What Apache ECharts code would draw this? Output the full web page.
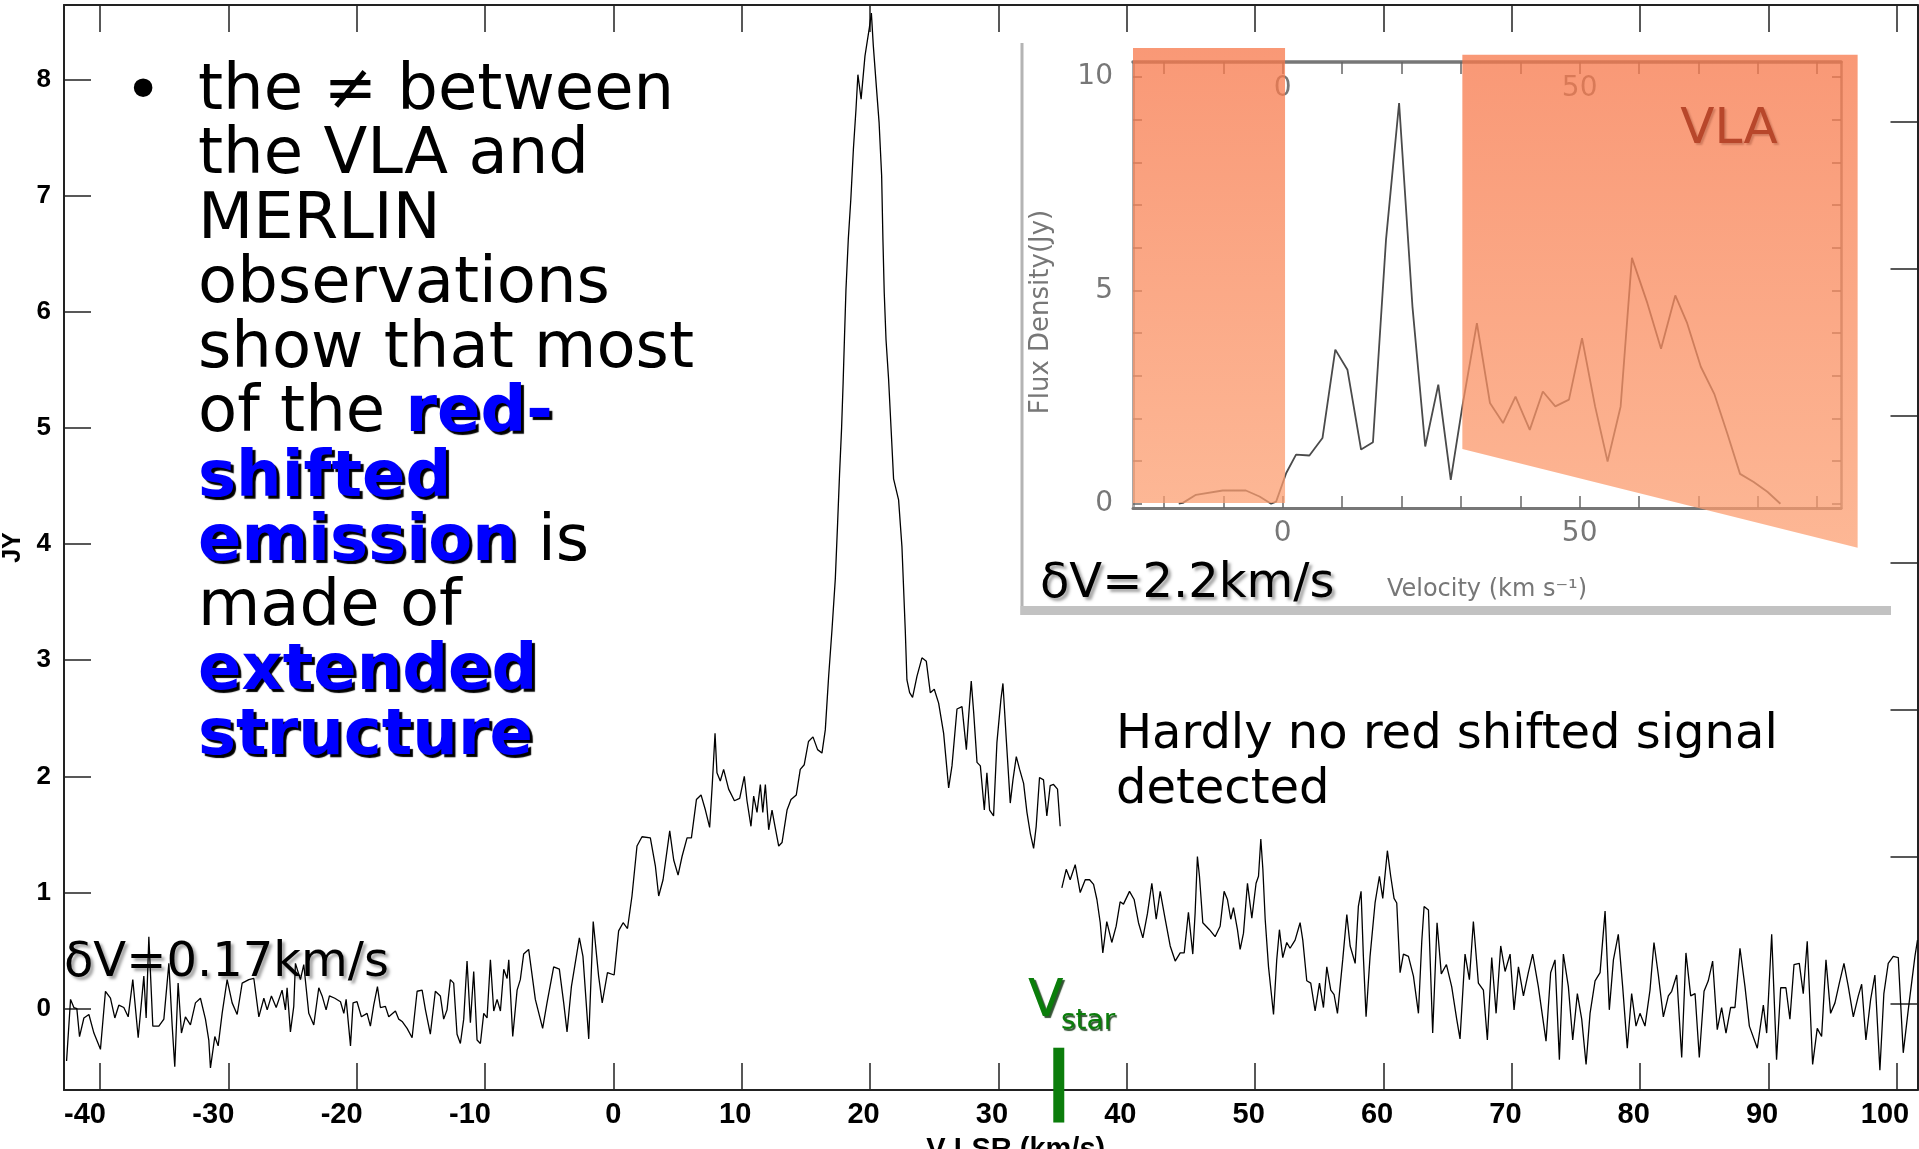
<!DOCTYPE html>
<html>
<head>
<meta charset="utf-8">
<title>MERLIN vs VLA spectrum</title>
<script src="https://cdn.jsdelivr.net/npm/echarts@6.0.0/dist/echarts.min.js"></script>
<style>
  html, body { margin: 0; padding: 0; background: #fff; }
  #chart { width: 1919px; height: 1149px; }
</style>
</head>
<body>
<div id="chart"></div>
<script>
// MERLIN spectrum, [velocity km/s, flux Jy], blue wing up to about -3 km/s
const blueWing = [
  [-42.6,-0.45],[-42.29,0.08],[-42.03,0.01],[-41.8,0.0],[-41.59,-0.24],[-41.25,-0.08],[-40.86,-0.05],[-40.47,-0.21],
  [-39.96,-0.35],[-39.57,0.15],[-39.18,0.09],[-38.84,-0.08],[-38.53,0.03],[-38.14,0.01],[-37.8,-0.07],[-37.44,0.25],
  [-37.02,-0.25],[-36.58,0.28],[-36.4,-0.08],[-36.19,0.62],[-35.88,-0.15],[-35.41,-0.15],[-35.02,-0.09],[-34.63,0.39],
  [-34.37,-0.15],[-34.17,-0.5],[-33.91,0.22],[-33.65,-0.21],[-33.34,-0.07],[-32.95,-0.14],[-32.56,0.05],[-32.17,0.09],
  [-31.78,-0.09],[-31.52,-0.27],[-31.39,-0.51],[-31.05,-0.24],[-30.79,-0.32],[-30.48,-0.04],[-30.09,0.25],[-29.7,0.05],
  [-29.31,-0.05],[-28.92,0.22],[-28.4,0.25],[-28.01,0.26],[-27.62,-0.07],[-27.23,0.09],[-26.97,-0.01],[-26.64,0.11],
  [-26.27,0.01],[-25.81,0.16],[-25.55,-0.01],[-25.42,0.18],[-25.16,-0.2],[-24.9,0.02],[-24.77,0.39],[-24.38,0.25],
  [-24.12,0.38],[-23.73,-0.04],[-23.34,-0.14],[-22.95,0.18],[-22.69,0.11],[-22.38,-0.01],[-22.12,0.11],[-21.7,0.09],
  [-21.26,0.06],[-21.0,-0.04],[-20.82,0.08],[-20.48,-0.32],[-20.28,0.05],[-19.97,0.06],[-19.63,-0.07],[-19.19,-0.04],
  [-18.93,-0.15],[-18.67,0.03],[-18.38,0.19],[-18.15,0.01],[-17.76,0.02],[-17.5,-0.07],[-16.98,-0.02],[-16.72,-0.09],
  [-16.46,-0.11],[-16.07,-0.17],[-15.68,-0.25],[-15.29,0.15],[-14.9,0.16],[-14.64,-0.01],[-14.26,-0.22],[-13.87,0.15],
  [-13.48,0.11],[-13.22,-0.09],[-12.96,-0.01],[-12.7,0.25],[-12.44,0.22],[-12.18,-0.22],[-11.92,-0.3],[-11.66,-0.09],
  [-11.4,0.41],[-11.14,-0.12],[-10.88,0.32],[-10.62,-0.27],[-10.36,-0.3],[-10.1,-0.04],[-9.84,-0.08],[-9.58,0.42],
  [-9.32,-0.02],[-9.06,0.08],[-8.8,-0.02],[-8.54,0.34],[-8.28,0.26],[-8.15,0.42],[-7.84,-0.24],[-7.5,0.16],
  [-7.25,0.25],[-6.99,0.47],[-6.6,0.51],[-6.08,0.08],[-5.51,-0.17],[-5.17,0.05],[-4.65,0.36],[-4.21,0.34],
  [-3.87,0.05],[-3.61,-0.2],[-3.27,0.19]
];

// MERLIN spectrum, main emission up to the band edge near 35 km/s
const mainPeak = [
  [-2.65,0.61],[-2.37,0.45],[-1.92,-0.26],[-1.57,0.75],[-1.15,0.28],[-0.87,0.05],[-0.46,0.31],[0.06,0.29],
  [0.41,0.67],[0.76,0.74],[1.1,0.69],[1.45,0.97],[1.84,1.4],[2.23,1.48],[2.88,1.47],[3.27,1.23],[3.53,0.97],
  [3.87,1.11],[4.39,1.53],[4.7,1.28],[5.04,1.15],[5.35,1.31],[5.74,1.47],[6.08,1.47],[6.47,1.8],[6.83,1.84],
  [7.17,1.71],[7.5,1.56],[7.71,1.94],[7.92,2.37],[8.07,2.03],[8.33,1.96],[8.59,2.06],[8.98,1.89],[9.43,1.79],
  [9.84,1.81],[10.2,2.0],[10.41,1.79],[10.72,1.57],[10.93,1.83],[11.19,1.69],[11.45,1.93],[11.64,1.69],[11.84,1.93],
  [12.1,1.54],[12.36,1.71],[12.54,1.6],[12.88,1.4],[13.14,1.43],[13.53,1.71],[13.84,1.8],[14.25,1.84],[14.56,2.06],
  [14.87,2.1],[15.2,2.3],[15.55,2.34],[15.91,2.23],[16.25,2.2],[16.51,2.4],[16.77,2.86],[17.03,3.26],[17.29,3.7],
  [17.47,4.18],[17.62,4.6],[17.78,5.0],[17.9,5.39],[18.0,5.76],[18.12,6.19],[18.3,6.62],[18.5,6.97],[18.7,7.4],
  [18.9,7.74],[19.05,8.04],[19.3,7.83],[19.6,8.2],[19.95,8.45],[20.1,8.57],[20.25,8.29],[20.5,7.92],[20.7,7.63],
  [20.9,7.17],[21.0,6.62],[21.1,6.17],[21.24,5.76],[21.44,5.42],[21.65,4.96],[21.83,4.56],[22.22,4.38],[22.48,3.98],
  [22.74,3.26],[22.87,2.83],[23.08,2.72],[23.31,2.68],[23.65,2.86],[24.04,3.02],[24.38,2.99],[24.69,2.72],[25.0,2.75],
  [25.34,2.63],[25.73,2.37],[26.12,1.9],[26.38,2.09],[26.77,2.58],[27.16,2.6],[27.5,2.23],[27.68,2.52],[27.88,2.82],
  [28.07,2.55],[28.33,2.12],[28.59,2.09],[28.9,1.71],[29.1,2.03],[29.31,1.71],[29.62,1.66],[29.88,2.29],[30.19,2.66],
  [30.35,2.8],[30.61,2.32],[30.92,1.77],[31.13,1.97],[31.39,2.17],[31.65,2.06],[31.96,1.94],[32.22,1.69],[32.48,1.51],
  [32.74,1.38],[32.94,1.57],[33.2,1.99],[33.51,1.97],[33.77,1.66],[34.03,1.92],[34.29,1.93],[34.6,1.89],[34.81,1.57]
];

// MERLIN spectrum, second band (red side)
const redBand = [
  [34.94,1.04],[35.28,1.2],[35.59,1.11],[35.98,1.24],[36.37,1.0],[36.76,1.11],[37.1,1.11],[37.41,1.07],[37.67,0.94],
  [37.93,0.74],[38.13,0.48],[38.44,0.75],[38.83,0.57],[39.17,0.71],[39.48,0.92],[39.74,0.9],[40.21,1.01],[40.57,0.94],
  [40.91,0.74],[41.25,0.61],[41.61,0.82],[41.95,1.08],[42.29,0.77],[42.6,1.01],[42.99,0.77],[43.38,0.54],[43.77,0.41],
  [44.16,0.48],[44.47,0.48],[44.8,0.83],[45.14,0.47],[45.32,0.82],[45.5,1.31],[45.66,1.14],[45.92,0.74],[46.44,0.68],
  [46.88,0.62],[47.27,0.71],[47.58,1.01],[47.84,0.94],[48.1,0.77],[48.31,0.87],[48.62,0.68],[48.83,0.51],[49.09,0.65],
  [49.4,1.08],[49.74,0.78],[50.07,1.08],[50.26,1.14],[50.44,1.46],[50.6,1.2],[50.78,0.77],[51.04,0.36],[51.43,-0.05],
  [51.68,0.42],[51.89,0.68],[52.15,0.44],[52.46,0.57],[52.72,0.52],[53.11,0.59],[53.5,0.74],[53.71,0.59],[54.02,0.24],
  [54.33,0.22],[54.67,-0.02],[55.01,0.22],[55.32,0.01],[55.58,0.36],[55.89,0.16],[56.15,0.12],[56.41,-0.04],[56.82,0.42],
  [57.14,0.81],[57.4,0.54],[57.79,0.39],[58.04,0.88],[58.25,1.01],[58.43,0.45],[58.64,-0.07],[58.95,0.45],[59.34,0.91],
  [59.68,1.14],[59.94,0.95],[60.3,1.36],[60.56,1.14],[60.82,0.95],[61.03,0.91],[61.29,0.31],[61.55,0.47],[61.94,0.45],
  [62.33,0.28],[62.72,-0.04],[62.98,0.58],[63.16,0.88],[63.5,0.85],[63.83,-0.21],[64.17,0.74],[64.5,0.3],[64.9,0.38],
  [65.31,0.19],[65.7,-0.09],[65.96,-0.26],[66.35,0.47],[66.69,0.25],[67.0,0.75],[67.39,0.22],[67.78,0.16],[68.09,-0.27],
  [68.43,0.44],[68.77,-0.04],[69.13,0.54],[69.47,0.32],[69.86,0.47],[70.17,-0.01],[70.51,0.36],[70.9,0.11],[71.28,0.31],
  [71.62,0.47],[72.06,0.19],[72.66,-0.28],[73.02,0.31],[73.36,0.42],[73.7,-0.44],[74.01,0.47],[74.4,0.19],[74.74,-0.27],
  [75.1,0.13],[75.44,-0.09],[75.78,-0.48],[76.09,-0.04],[76.48,0.24],[76.87,0.31],[77.26,0.84],[77.59,-0.01],[77.91,0.42],
  [78.29,0.64],[78.63,0.19],[78.99,-0.34],[79.33,0.13],[79.67,-0.15],[79.98,-0.04],[80.37,-0.15],[80.76,0.16],[81.07,0.57],
  [81.41,0.29],[81.8,-0.07],[82.19,0.11],[82.45,0.15],[82.84,0.29],[83.23,-0.42],[83.56,0.48],[83.93,0.11],[84.27,0.13],
  [84.6,-0.42],[84.97,0.15],[85.3,0.24],[85.64,0.41],[86.0,-0.18],[86.34,0.01],[86.68,-0.21],[87.04,0.01],[87.38,0.01],
  [87.77,0.52],[88.16,0.19],[88.5,-0.15],[89.12,-0.34],[89.59,0.03],[89.85,-0.21],[90.24,0.64],[90.62,-0.44],[90.94,0.18],
  [91.35,0.18],[91.66,-0.09],[91.98,0.38],[92.39,0.39],[92.7,0.13],[93.01,0.58],[93.43,-0.48],[93.79,-0.17],[94.13,-0.24],
  [94.47,0.42],[94.83,-0.04],[95.17,0.05],[95.51,0.22],[95.87,0.39],[96.21,0.19],[96.6,-0.07],[96.99,0.11],[97.25,0.21],
  [97.58,-0.27],[97.95,0.08],[98.28,0.29],[98.67,-0.53],[98.98,0.13],[99.32,0.39],[99.71,0.45],[100.1,0.44],[100.49,-0.38],
  [100.88,-0.01],[101.4,0.45],[101.6,0.59]
];

// stellar velocity marker: [velocity, top flux, bottom flux]
const vStarMark = [[34.7, -0.336, -0.98]];

// VLA spectrum in the inset, [velocity, flux density Jy]
const vlaSpectrum = [
  [-17.5,0],[-16.8,0.02],[-14.6,0.21],[-10.1,0.31],[-6.2,0.31],[-3.9,0.17],[-1.95,0],[-1.1,0.05],[0.6,0.72],
  [2.25,1.15],[4.5,1.13],[6.7,1.54],[8.86,3.61],[10.9,3.14],[13.2,1.27],[15.2,1.44],[17.4,6.19],[19.6,9.39],
  [21.85,4.62],[24.0,1.34],[26.2,2.79],[28.3,0.56],[30.25,2.28],[32.7,4.23],[34.9,2.36],[37.1,1.89],[39.2,2.51],
  [41.6,1.73],[43.8,2.63],[45.9,2.28],[48.2,2.44],[50.4,3.88],[52.6,2.28],[54.7,0.99],[56.9,2.28],[58.8,5.76],
  [61.4,4.7],[63.7,3.63],[66.1,4.88],[68.1,4.23],[70.4,3.21],[72.7,2.56],[74.9,1.63],[77.0,0.7],[79.3,0.51],
  [81.6,0.28],[83.8,0]
];

// orange masks drawn over the VLA spectrum, in inset coordinates
const vlaMaskLeft = [[-25.2,10.68],[0.4,10.68],[0.4,0.02],[-25.2,0.02]];
const vlaMaskRight = [[30.25,10.52],[96.8,10.52],[96.8,-1.03],[30.25,1.28]];

// ticks
const velocityTicks = [-40,-30,-20,-10,0,10,20,30,40,50,60,70,80,90,100];
const fluxTicks = [0,1,2,3,4,5,6,7,8];
const rightTicks = [0,1,2,3,4,5,6];
const vlaVelTicks = [-20,-10,0,10,20,30,40,50,60,70,80,90];
const vlaVelLabels = [0,50];
const vlaFluxTicks = [0,1,2,3,4,5,6,7,8,9,10];
const vlaFluxLabels = [0,5,10];

const chart = echarts.init(document.getElementById('chart'));

const axisFont = 'Liberation Sans';
const slideFont = 'DejaVu Sans';
const insetFont = "'Liberation Sans Narrow', 'DejaVu Sans'";
const masks = [vlaMaskLeft, vlaMaskRight];

const bulletText = [
  '{n|the \u2260 between}',
  '{n|the VLA and}',
  '{n|MERLIN}',
  '{n|observations}',
  '{n|show that most}',
  '{n|of the }{b|red-}',
  '{b|shifted}',
  '{b|emission}{n| is}',
  '{n|made of}',
  '{b|extended}',
  '{b|structure}'
].join('\n');

const mainAxisLine = { onZero: false, lineStyle: { color: '#222', width: 2 } };
const mainTick = { inside: true, length: 27, lineStyle: { color: '#222', width: 1.5 } };
const insetTickStyle = { color: '#666', width: 1.5 };

// IDL draws the bottom labels slightly left of their ticks
const xLabelBase = { fontFamily: axisFont, fontWeight: 'bold', fontSize: 29, color: '#000' };
const xLabelRich = {
  neg: Object.assign({ padding: [0, 30, 0, 0] }, xLabelBase),
  pos: Object.assign({ padding: [0, 13, 0, 0] }, xLabelBase),
  wide: Object.assign({ padding: [0, 24, 0, 0] }, xLabelBase),
  zero: Object.assign({}, xLabelBase)
};

chart.setOption({
  animation: false,
  backgroundColor: '#fff',
  grid: [
    { left: 64, top: 5, right: 1.5, bottom: 59, containLabel: false, outerBoundsMode: 'none' },
    { left: 1133, top: 62, right: 78, bottom: 641, containLabel: false, outerBoundsMode: 'none' }
  ],
  xAxis: [
    {
      gridIndex: 0, type: 'value', position: 'bottom', min: -42.8, max: 101.6,
      axisLine: mainAxisLine,
      axisTick: Object.assign({ customValues: velocityTicks }, mainTick),
      axisLabel: {
        customValues: velocityTicks, margin: 10, color: '#000',
        fontFamily: axisFont, fontWeight: 'bold', fontSize: 29,
        formatter: function (v) {
          const key = v < 0 ? 'neg' : (v >= 100 ? 'wide' : (v === 0 ? 'zero' : 'pos'));
          return '{' + key + '|' + v + '}';
        },
        rich: xLabelRich
      },
      splitLine: { show: false },
      name: 'V LSR (km/s)', nameLocation: 'middle', nameGap: 45,
      nameTextStyle: { color: '#000', fontFamily: axisFont, fontWeight: 'bold', fontSize: 29, padding: [0, 0, 0, 50] }
    },
    {
      gridIndex: 0, type: 'value', position: 'top', min: -42.8, max: 101.6,
      axisLine: mainAxisLine,
      axisTick: Object.assign({ customValues: velocityTicks }, mainTick),
      axisLabel: { show: false },
      splitLine: { show: false }
    },
    {
      gridIndex: 1, type: 'value', position: 'bottom', min: -25.2, max: 94,
      axisLine: { onZero: false, lineStyle: { color: '#777', width: 3 } },
      axisTick: { inside: true, length: 12, customValues: vlaVelTicks, lineStyle: insetTickStyle },
      axisLabel: { customValues: vlaVelLabels, margin: 12, color: '#777', fontFamily: insetFont, fontSize: 28 },
      splitLine: { show: false }
    },
    {
      gridIndex: 1, type: 'value', position: 'top', min: -25.2, max: 94,
      axisLine: { onZero: false, lineStyle: { color: '#777', width: 3.5 } },
      axisTick: { inside: true, length: 12, customValues: vlaVelTicks, lineStyle: insetTickStyle },
      axisLabel: { inside: true, customValues: vlaVelLabels, margin: 13, color: '#777', fontFamily: insetFont, fontSize: 28 },
      splitLine: { show: false }
    }
  ],
  yAxis: [
    {
      gridIndex: 0, type: 'value', position: 'left', min: -0.7, max: 8.64,
      axisLine: mainAxisLine,
      axisTick: Object.assign({ customValues: fluxTicks }, mainTick),
      axisLabel: {
        customValues: fluxTicks, margin: 13, color: '#000',
        fontFamily: axisFont, fontWeight: 'bold', fontSize: 26
      },
      splitLine: { show: false },
      name: 'JY', nameLocation: 'middle', nameGap: 38, nameRotate: 90,
      nameTextStyle: { color: '#000', fontFamily: axisFont, fontWeight: 'bold', fontSize: 25 }
    },
    {
      gridIndex: 0, type: 'value', position: 'right', min: -0.587, max: 6.797,
      axisLine: mainAxisLine,
      axisTick: Object.assign({ customValues: rightTicks }, mainTick),
      axisLabel: { show: false },
      splitLine: { show: false }
    },
    {
      gridIndex: 1, type: 'value', position: 'left', min: -0.1, max: 10.35,
      axisLine: { onZero: false, lineStyle: { color: '#a8a8a8', width: 3 } },
      axisTick: { inside: true, length: 9, customValues: vlaFluxTicks, lineStyle: insetTickStyle },
      axisLabel: { customValues: vlaFluxLabels, margin: 20, color: '#777', fontFamily: insetFont, fontSize: 28 },
      splitLine: { show: false }
    },
    {
      gridIndex: 1, type: 'value', position: 'right', min: -0.1, max: 10.35,
      axisLine: { onZero: false, lineStyle: { color: '#8a8a8a', width: 2.5 } },
      axisTick: { inside: true, length: 9, customValues: vlaFluxTicks, lineStyle: insetTickStyle },
      axisLabel: { show: false },
      splitLine: { show: false }
    }
  ],
  series: [
    {
      name: 'MERLIN', type: 'line', xAxisIndex: 0, yAxisIndex: 0,
      data: blueWing.concat(mainPeak),
      showSymbol: false, symbol: 'none', z: 3,
      lineStyle: { color: '#000', width: 1.3 }
    },
    {
      name: 'MERLIN red band', type: 'line', xAxisIndex: 0, yAxisIndex: 0,
      data: redBand,
      showSymbol: false, symbol: 'none', z: 3,
      lineStyle: { color: '#000', width: 1.3 }
    },
    {
      name: 'Vstar', type: 'custom', xAxisIndex: 0, yAxisIndex: 0, clip: false, z: 6,
      data: vStarMark,
      renderItem: function (params, api) {
        const top = api.coord([api.value(0), api.value(1)]);
        const bot = api.coord([api.value(0), api.value(2)]);
        return {
          type: 'rect',
          shape: { x: top[0] - 5.5, y: top[1], width: 11, height: bot[1] - top[1] },
          style: { fill: '#0b7d0b' }
        };
      }
    },
    {
      name: 'VLA', type: 'line', xAxisIndex: 2, yAxisIndex: 2,
      data: vlaSpectrum,
      showSymbol: false, symbol: 'none', z: 3,
      lineStyle: { color: '#4a4a4a', width: 1.8 }
    },
    {
      name: 'VLA masks', type: 'custom', xAxisIndex: 2, yAxisIndex: 2, clip: false, z: 10,
      data: [[0], [1]],
      renderItem: function (params, api) {
        const pts = masks[params.dataIndex].map(function (p) { return api.coord(p); });
        return {
          type: 'polygon',
          shape: { points: pts },
          style: {
            fill: new echarts.graphic.LinearGradient(0, 0, 0, 1, [
              { offset: 0, color: 'rgba(247,120,75,0.76)' },
              { offset: 1, color: 'rgba(252,158,112,0.74)' }
            ])
          }
        };
      }
    }
  ],
  graphic: [
    { type: 'rect', z: 1, shape: { x: 1020.5, y: 43, width: 3, height: 572 }, style: { fill: '#b4b4b4' } },
    { type: 'rect', z: 1, shape: { x: 1020.5, y: 606, width: 870.5, height: 9 }, style: { fill: '#c2c2c2' } },
    {
      type: 'text', z: 100, x: 143, y: 95,
      style: { text: '\u2022', font: '64px "DejaVu Sans"', fill: '#000', align: 'center', verticalAlign: 'middle' }
    },
    {
      type: 'text', z: 100, x: 198, y: 60,
      style: {
        text: bulletText, align: 'left', verticalAlign: 'top',
        font: '64px "DejaVu Sans"', lineHeight: 64.5, fill: '#000',
        rich: {
          n: { fontFamily: slideFont, fontSize: 64, lineHeight: 64.5, fill: '#000' },
          b: {
            fontFamily: slideFont, fontSize: 64, fontWeight: 'bold', lineHeight: 64.5, fill: '#0000ff',
            textShadowColor: '#000', textShadowBlur: 1, textShadowOffsetX: 3, textShadowOffsetY: 3
          }
        }
      }
    },
    {
      type: 'text', z: 100, x: 64, y: 964,
      style: {
        text: '\u03b4V=0.17km/s', font: '48px "DejaVu Sans"', fill: '#000', align: 'left', verticalAlign: 'middle',
        textShadowColor: 'rgba(0,0,0,0.35)', textShadowBlur: 3, textShadowOffsetX: 3, textShadowOffsetY: 3
      }
    },
    {
      type: 'text', z: 100, x: 1040, y: 585,
      style: {
        text: '\u03b4V=2.2km/s', font: '48px "DejaVu Sans"', fill: '#000', align: 'left', verticalAlign: 'middle',
        textShadowColor: 'rgba(0,0,0,0.35)', textShadowBlur: 3, textShadowOffsetX: 3, textShadowOffsetY: 3
      }
    },
    {
      type: 'text', z: 100, x: 1729, y: 130,
      style: {
        text: 'VLA', font: '50px "DejaVu Sans"', fill: '#b8472b', align: 'center', verticalAlign: 'middle',
        textShadowColor: 'rgba(120,40,20,0.3)', textShadowBlur: 2, textShadowOffsetX: 2, textShadowOffsetY: 2
      }
    },
    {
      type: 'text', z: 100, x: 1116, y: 708,
      style: {
        text: 'Hardly no red shifted signal\ndetected', font: '48px "DejaVu Sans"', lineHeight: 55,
        fill: '#000', align: 'left', verticalAlign: 'top'
      }
    },
    {
      type: 'text', z: 100, x: 1028, y: 1002,
      style: {
        text: 'V', font: '52px "DejaVu Sans"', fill: '#0a7d0a', align: 'left', verticalAlign: 'middle',
        textShadowColor: 'rgba(0,40,0,0.8)', textShadowBlur: 1, textShadowOffsetX: 2, textShadowOffsetY: 2
      }
    },
    {
      type: 'text', z: 100, x: 1061, y: 1022,
      style: {
        text: 'star', font: '28px "DejaVu Sans"', fill: '#0a7d0a', align: 'left', verticalAlign: 'middle',
        textShadowColor: 'rgba(0,40,0,0.8)', textShadowBlur: 1, textShadowOffsetX: 1.5, textShadowOffsetY: 1.5
      }
    },
    {
      type: 'text', z: 100, x: 1041, y: 312, rotation: Math.PI / 2,
      style: { text: 'Flux Density(Jy)', font: '26px "DejaVu Sans"', fill: '#777', align: 'center', verticalAlign: 'middle' }
    },
    {
      type: 'text', z: 100, x: 1487, y: 590,
      style: { text: 'Velocity (km s\u207b\u00b9)', font: '24px "DejaVu Sans"', fill: '#777', align: 'center', verticalAlign: 'middle' }
    }
  ]
});

window.addEventListener('resize', function () { chart.resize(); });
</script>
</body>
</html>
